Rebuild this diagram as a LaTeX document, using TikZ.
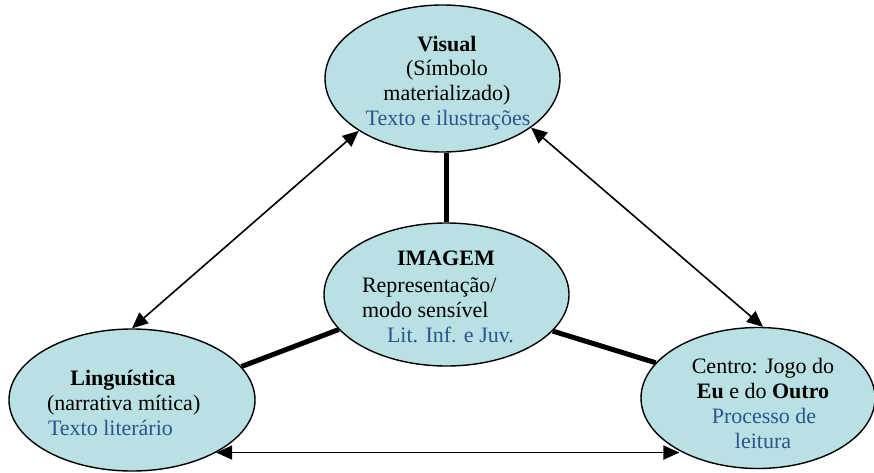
\documentclass[tikz,border=0pt]{standalone}
\usepackage{fontspec}
\setmainfont{Liberation Serif}
\usetikzlibrary{arrows.meta,shapes.geometric}
\definecolor{ellfill}{RGB}{185,224,226}
\definecolor{txtblue}{RGB}{44,84,145}
\tikzset{
  ell/.style={ellipse, draw=black, line width=1.4pt, fill=ellfill, inner sep=0pt},
  lbl/.style={inner sep=0pt, outer sep=0pt, font=\fontsize{22}{25}\selectfont},
  blu/.style={lbl, text=txtblue},
  twoway/.style={line width=1.6pt, {Triangle[length=16pt,width=14pt]}-{Triangle[length=16pt,width=14pt]}},
  thick link/.style={line width=5pt}
}
\begin{document}
\begin{tikzpicture}[x=1pt,y=-1pt]
\useasboundingbox (0,0) rectangle (874,473);
% ellipses
\node[ell, minimum width=235pt, minimum height=147pt] (vis) at (442.5,78.5) {};
\node[ell, minimum width=245pt, minimum height=143pt] (img) at (446.5,294.5) {};
\node[ell, minimum width=246pt, minimum height=142pt] (ling) at (132,400) {};
\node[ell, minimum width=234pt, minimum height=141pt] (cen) at (758,398) {};
% thick links
\draw[thick link] (vis.south -| img.north) -- (img.north);
\draw[thick link] (img.198.9) -- (ling.17.9);
\draw[thick link] (img.-19.1) -- (cen.161.9);
% double arrows
\draw[twoway] (ling.90) -- (vis.212.6);
\draw[twoway] (vis.-29.1) -- (cen.86.6);
\draw[twoway] (ling.-32) -- (ling.-32 -| cen.214);
% Visual texts
\node[lbl, anchor=base] (v1) at (447,52) {\textbf{Visual}};
\node[lbl, anchor=base] (v2) at (447,76) {(Símbolo};
\node[lbl, anchor=base] (v3) at (447,101) {materializado)};
\node[blu, anchor=base] (v4) at (448,126) {Texto e ilustrações};
% IMAGEM texts
\node[lbl, anchor=base west] (i1) at (397,265) {\textbf{IMAGEM}};
\node[lbl, anchor=base west] (i2) at (362,292) {Representação/};
\node[lbl, anchor=base west] (i3) at (362,317) {modo sensível};
\node[blu, anchor=base west] (i4) at (387,342) {Lit. Inf. e Juv.};
% Linguistica texts
\node[lbl, anchor=base] (l1) at (123,385) {\textbf{Linguística}};
\node[lbl, anchor=base west] (l2) at (47,410) {(narrativa mítica)};
\node[blu, anchor=base west] (l3) at (48,435) {Texto literário};
% Centro texts
\node[lbl, anchor=base] (c1) at (763,373) {Centro: Jogo do};
\node[lbl, anchor=base] (c2) at (763,398) {\textbf{Eu} e do \textbf{Outro}};
\node[blu, anchor=base] (c3) at (764,423) {Processo de};
\node[blu, anchor=base] (c4) at (763,448) {leitura};
\end{tikzpicture}
\end{document}
